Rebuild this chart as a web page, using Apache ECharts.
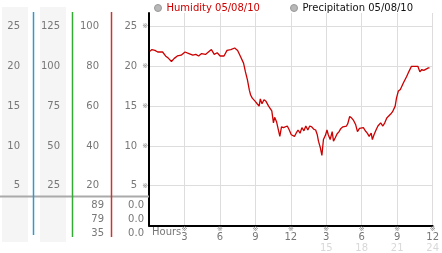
<!DOCTYPE html>
<html><head><meta charset="utf-8">
<script src="https://cdn.jsdelivr.net/npm/echarts@6/dist/echarts.min.js"></script>
<style>html,body{margin:0;padding:0;background:#fff}#c{width:442px;height:253px}</style>
</head><body><div id="c"></div>
<script>
// ---- data ----
const hours = [0.08,0.25,0.5,0.74,0.9,1.15,1.4,1.65,1.9,2.14,2.4,2.72,3.05,3.38,3.71,3.96,4.2,4.45,4.78,5.1,5.28,5.52,5.77,6.02,6.18,6.35,6.6,6.92,7.25,7.5,7.75,8.0,8.16,8.33,8.49,8.6,8.74,8.88,8.99,9.15,9.32,9.42,9.56,9.73,9.9,10.12,10.25,10.39,10.53,10.63,10.8,10.96,11.07,11.21,11.38,11.54,11.7,11.87,12.04,12.2,12.31,12.45,12.61,12.78,12.94,13.11,13.27,13.44,13.6,13.77,13.93,14.1,14.24,14.34,14.51,14.63,14.76,14.92,15.06,15.17,15.33,15.5,15.61,15.75,15.91,16.08,16.24,16.41,16.57,16.71,16.82,16.98,17.15,17.31,17.48,17.64,17.81,17.97,18.14,18.3,18.47,18.63,18.8,18.9,19.04,19.21,19.37,19.6,19.79,19.95,20.12,20.28,20.45,20.61,20.83,20.94,21.1,21.27,21.52,21.79,22.01,22.21,22.43,22.59,22.75,22.92,23.08,23.25,23.41,23.64,23.74];
const humidity = [21.9,22.1,22.0,21.8,21.7,21.8,21.3,21.0,20.6,21.0,21.3,21.4,21.8,21.6,21.4,21.5,21.3,21.6,21.5,21.9,22.1,21.5,21.7,21.3,21.5,21.3,22.0,22.1,22.3,22.0,21.2,20.4,19.3,18.3,17.0,16.4,16.0,16.2,15.6,15.3,15.0,15.9,15.3,15.8,15.6,15.0,15.0,14.4,12.9,13.6,13.0,12.8,11.2,12.4,12.3,12.3,12.5,12.0,11.4,11.6,11.2,11.6,12.0,11.6,12.3,11.9,12.5,12.0,12.5,12.4,12.1,12.0,11.4,10.6,9.7,8.8,10.8,11.3,12.0,11.4,10.8,11.8,10.6,11.0,11.5,11.8,12.2,12.4,12.2,12.5,12.8,13.7,13.5,13.2,12.7,11.8,12.2,12.0,12.3,11.9,11.6,11.2,11.6,10.8,11.4,12.0,12.5,12.9,12.5,12.9,13.5,13.3,14.0,14.3,15.0,16.0,16.9,17.1,17.9,18.7,19.4,20.0,20.0,19.8,20.0,19.3,19.6,19.5,19.6,19.8,19.8];
const precipitation = [];
const legendNames = ['Humidity 05/08/10', 'Precipitation 05/08/10'];
const xTicks = [3,6,9,12,15,18,21,24];
const lowerCol3 = ['89','79','35'];
const lowerCol4 = ['0.0','0.0','0.0'];
const lowerRowsY = [205,219,233];

const FONT = 'DejaVu Sans';
const TXT = '#777';
const YMAX = 26.7;

const chart = echarts.init(document.getElementById('c'), null, {renderer:'canvas'});

function yFmt(k){ return function(v){ const t = Math.round(v/k*1000)/1000; return (t>0 && t%5===0) ? String(v) : ''; }; }

const gridColors = ['#ddd','#ddd','#ddd','#ddd','#ddd','#ddd','rgba(0,0,0,0)','rgba(0,0,0,0)'];

const graphics = [
  {type:'rect', z:-10, shape:{x:2,y:7,width:26,height:235}, style:{fill:'#f5f5f5'}},
  {type:'rect', z:-10, shape:{x:40,y:7,width:26,height:235}, style:{fill:'#f5f5f5'}},
  {type:'line', z:5, shape:{x1:0,y1:196.5,x2:149,y2:196.5}, style:{stroke:'#aaa',lineWidth:2}},
  {type:'line', z:6, shape:{x1:33.5,y1:12,x2:33.5,y2:235}, style:{stroke:'#3399cc',lineWidth:1.5}},
  {type:'line', z:6, shape:{x1:72.5,y1:12,x2:72.5,y2:237}, style:{stroke:'#33aa33',lineWidth:1.5}},
  {type:'line', z:6, shape:{x1:111.5,y1:12,x2:111.5,y2:237}, style:{stroke:'#cc3333',lineWidth:1.5}},
  {type:'text', z:10, x:152, y:232, style:{text:'Hours', fill:TXT, font:'10px "'+FONT+'"', verticalAlign:'middle', align:'left'}}
];
lowerCol3.forEach((t,i)=>graphics.push({type:'text', z:10, x:104, y:lowerRowsY[i], style:{text:t, fill:TXT, font:'10px "'+FONT+'"', align:'right', verticalAlign:'middle'}}));
lowerCol4.forEach((t,i)=>graphics.push({type:'text', z:10, x:144, y:lowerRowsY[i], style:{text:t, fill:TXT, font:'10px "'+FONT+'"', align:'right', verticalAlign:'middle'}}));

const extraAxis = (k, offset) => ({
  type:'value', min:0, max:YMAX*k, interval:5*k, position:'left', offset:offset,
  axisLine:{show:false}, axisTick:{show:false}, splitLine:{show:false},
  axisLabel:{show:true, margin:8, color:TXT, fontFamily:FONT, fontSize:10, formatter:yFmt(k), showMinLabel:false, showMaxLabel:false}
});

chart.setOption({
  animation:false,
  backgroundColor:'#fff',
  textStyle:{fontFamily:FONT},
  legend:[
    {left:154, top:3, padding:0, itemWidth:7, itemHeight:7, icon:'circle', itemGap:4,
     data:[{name:legendNames[0], textStyle:{color:'#cc0000'}}],
     itemStyle:{color:'#b8b8b8', borderColor:'#999', borderWidth:1},
     textStyle:{fontSize:10, fontFamily:FONT}, selectedMode:false},
    {left:290, top:3, padding:0, itemWidth:7, itemHeight:7, icon:'circle', itemGap:4,
     data:[{name:legendNames[1], textStyle:{color:'#111'}}],
     itemStyle:{color:'#b8b8b8', borderColor:'#999', borderWidth:1},
     textStyle:{fontSize:10, fontFamily:FONT}, selectedMode:false}
  ],
  grid:{left:149, top:13, right:2, bottom:27, containLabel:false},
  xAxis:{type:'value', min:0, max:24, interval:3,
    axisLine:{show:true, onZero:false, lineStyle:{color:'#000', width:2}},
    axisTick:{show:false},
    splitLine:{show:true, lineStyle:{color:'#ddd', width:1}},
    axisLabel:{margin:1, showMinLabel:false, color:TXT, fontFamily:FONT,
      formatter:function(v){ if(!xTicks.includes(v)) return ''; const h = v%12===0?12:v%12; let s='{m|※}\n{n|'+h+'}'; if(v>12) s+='\n{g|'+v+'}'; return s; },
      rich:{m:{fontSize:7, lineHeight:6, color:'#888', fontFamily:FONT, align:'center'},
            n:{fontSize:10, lineHeight:10, color:TXT, fontFamily:FONT, align:'center'},
            g:{fontSize:10, lineHeight:11, color:'#d8d8d8', fontFamily:FONT, align:'center'}}}
  },
  yAxis:[
    {type:'value', min:0, max:YMAX, interval:5, position:'left',
     axisLine:{show:true, onZero:false, lineStyle:{color:'#000', width:2}},
     axisTick:{show:false},
     splitLine:{show:true, lineStyle:{color:gridColors, width:1}},
     axisLabel:{margin:1, color:TXT, fontFamily:FONT, showMinLabel:false, showMaxLabel:false,
       formatter:function(v){ return (v>0 && v%5===0) ? '{a|'+v+'}{b|※}' : ''; },
       rich:{a:{fontSize:10, color:TXT, fontFamily:FONT}, b:{fontSize:7, color:'#888', fontFamily:FONT, padding:[0,0,0,5]}}}},
    extraAxis(1,121),
    extraAxis(5,81),
    extraAxis(4,42)
  ],
  graphic:graphics,
  series:[
    {name:legendNames[0], type:'line', yAxisIndex:0, data:hours.map((h,i)=>[h,humidity[i]]), showSymbol:false, symbol:'none',
     lineStyle:{color:'#cc0000', width:1.3}, itemStyle:{color:'#cc0000'}},
    {name:legendNames[1], type:'bar', yAxisIndex:0, data:precipitation, itemStyle:{color:'#333'}}
  ]
});
</script></body></html>
